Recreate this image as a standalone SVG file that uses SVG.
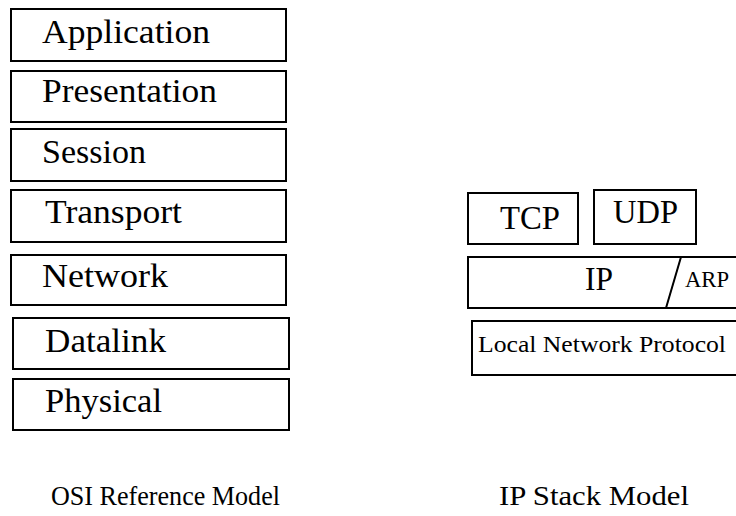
<svg xmlns="http://www.w3.org/2000/svg" width="736" height="516" viewBox="0 0 736 516">
  <style>
    .box { fill: #ffffff; stroke: #000000; stroke-width: 2; }
    .lbl { font-family: 'Liberation Serif', 'DejaVu Serif', serif; fill: #000000; }
    .big { font-size: 34px; }
    .mid { font-size: 33px; }
    .small { font-size: 24px; }
    .cap { font-size: 28px; }
  </style>
  <rect width="736" height="516" fill="#ffffff"/>

  <!-- OSI reference model layers -->
  <g id="osi-application">
    <rect class="box" x="11" y="9" width="275" height="52"/>
    <text class="lbl big" x="42" y="43" textLength="168" lengthAdjust="spacingAndGlyphs">Application</text>
  </g>
  <g id="osi-presentation">
    <rect class="box" x="11" y="71" width="275" height="51"/>
    <text class="lbl big" x="42" y="102" textLength="175" lengthAdjust="spacingAndGlyphs">Presentation</text>
  </g>
  <g id="osi-session">
    <rect class="box" x="11" y="129" width="275" height="52"/>
    <text class="lbl big" x="42" y="163" textLength="104" lengthAdjust="spacingAndGlyphs">Session</text>
  </g>
  <g id="osi-transport">
    <rect class="box" x="11" y="190" width="275" height="52"/>
    <text class="lbl big" x="45" y="223" textLength="137" lengthAdjust="spacingAndGlyphs">Transport</text>
  </g>
  <g id="osi-network">
    <rect class="box" x="11" y="255" width="275" height="50"/>
    <text class="lbl big" x="42" y="287" textLength="126" lengthAdjust="spacingAndGlyphs">Network</text>
  </g>
  <g id="osi-datalink">
    <rect class="box" x="13" y="318" width="276" height="51"/>
    <text class="lbl big" x="45" y="352" textLength="121" lengthAdjust="spacingAndGlyphs">Datalink</text>
  </g>
  <g id="osi-physical">
    <rect class="box" x="13" y="379" width="276" height="51"/>
    <text class="lbl big" x="45" y="412" textLength="117" lengthAdjust="spacingAndGlyphs">Physical</text>
  </g>

  <!-- IP stack model -->
  <g id="ip-tcp">
    <rect class="box" x="468" y="193" width="110" height="51"/>
    <text class="lbl mid" x="500" y="229" textLength="60" lengthAdjust="spacingAndGlyphs">TCP</text>
  </g>
  <g id="ip-udp">
    <rect class="box" x="594" y="190" width="102" height="54"/>
    <text class="lbl mid" x="613" y="223" textLength="65" lengthAdjust="spacingAndGlyphs">UDP</text>
  </g>
  <g id="ip-ip">
    <path class="box" d="M737 257 H468 V308 H737"/>
    <text class="lbl mid" x="585" y="290" textLength="28" lengthAdjust="spacingAndGlyphs">IP</text>
  </g>
  <g id="ip-arp">
    <text class="lbl small" x="685" y="287" textLength="44" lengthAdjust="spacingAndGlyphs">ARP</text>
  </g>
  <g id="ip-local">
    <path class="box" d="M737 321 H472 V375 H737"/>
    <text class="lbl small" x="478" y="352" textLength="248" lengthAdjust="spacingAndGlyphs">Local Network Protocol</text>
  </g>

  <g id="connectors">
    <line x1="681" y1="257" x2="666" y2="308" stroke="#000000" stroke-width="2"/>
  </g>

  <!-- captions -->
  <text class="lbl cap" x="51" y="505" textLength="229" lengthAdjust="spacingAndGlyphs">OSI Reference Model</text>
  <text class="lbl cap" x="499" y="505" textLength="190" lengthAdjust="spacingAndGlyphs">IP Stack Model</text>
</svg>
